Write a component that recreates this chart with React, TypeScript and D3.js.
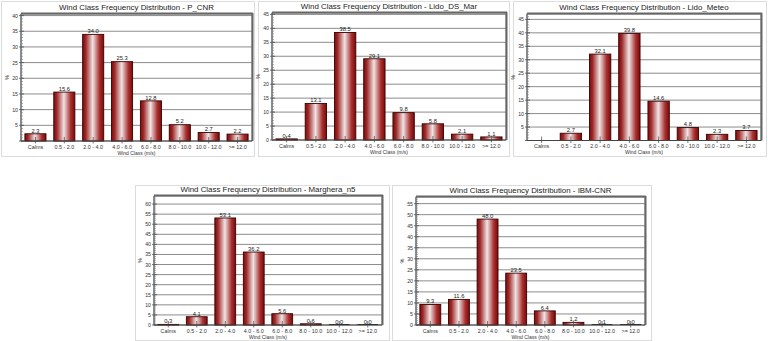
import React from "react";
import * as d3 from "d3";

const categories = ["Calms", "0.5 - 2.0", "2.0 - 4.0", "4.0 - 6.0", "6.0 - 8.0", "8.0 - 10.0", "10.0 - 12.0", ">= 12.0"];
const stations = ["P_CNR", "Lido_DS_Mar", "Lido_Meteo", "Marghera_n5", "IBM-CNR"];
const pCnrValues: (number | null)[] = [2.3, 15.6, 34.0, 25.3, 12.8, 5.2, 2.7, 2.2];
const lidoDsMarValues: (number | null)[] = [0.4, 13.1, 38.5, 29.1, 9.8, 5.8, 2.1, 1.1];
const lidoMeteoValues: (number | null)[] = [null, 2.7, 32.1, 39.8, 14.6, 4.8, 2.3, 3.7];
const margheraValues: (number | null)[] = [0.3, 4.1, 53.1, 36.2, 5.6, 0.6, 0.0, 0.0];
const ibmCnrValues: (number | null)[] = [9.3, 11.6, 48.0, 23.5, 6.4, 1.2, 0.1, 0.0];
const yMaxes = [40.5, 45.5, 47, 64, 58];
const yTickMax = [40, 45, 45, 60, 55];
const showZero = [false, true, false, true, true];

const seriesList = [pCnrValues, lidoDsMarValues, lidoMeteoValues, margheraValues, ibmCnrValues];

// layout: frame + plot area
const layouts = [
  { fx: 1, fy: 1, fw: 254, fh: 156, l: 21, t: 14, r: 252, b: 141 },
  { fx: 258, fy: 1, fw: 252, fh: 156, l: 272, t: 13, r: 506, b: 140 },
  { fx: 513, fy: 1, fw: 254, fh: 156, l: 527, t: 14, r: 761, b: 140.5 },
  { fx: 135, fy: 185, fw: 255, fh: 156, l: 154, t: 196, r: 382, b: 325 },
  { fx: 392, fy: 185, fw: 260, fh: 156, l: 416, t: 197, r: 645, b: 325 },
];

const FONT = "'Liberation Sans', Arial, sans-serif";

function Panel({ idx }: { idx: number }) {
  const L = layouts[idx];
  const values = seriesList[idx];
  const x = d3.scaleBand<string>().domain(categories).range([L.l, L.r]).paddingInner(0.27).paddingOuter(0.135);
  const y = d3.scaleLinear().domain([0, yMaxes[idx]]).range([L.b, L.t]);
  const majors = d3.range(0, yTickMax[idx] + 0.01, 5);
  const minors = d3.range(0, Math.floor(yMaxes[idx]) + 0.01, 1);
  const gid = `grad${idx}`;
  const cx = (L.l + L.r) / 2;
  return (
    <g>
      <defs>
        <linearGradient id={gid} x1="0" x2="1" y1="0" y2="0">
          <stop offset="0" stopColor="#7d0a0a" />
          <stop offset="0.15" stopColor="#a02a2a" />
          <stop offset="0.48" stopColor="#f0e4e4" />
          <stop offset="0.8" stopColor="#a83030" />
          <stop offset="1" stopColor="#7a0808" />
        </linearGradient>
      </defs>
      <rect x={L.fx + 0.5} y={L.fy + 0.5} width={L.fw - 1} height={L.fh - 1} fill="#fff" stroke="#dcdcdc" />
      <text x={cx} y={L.t - 4.5} textAnchor="middle" fontFamily={FONT} fontSize={7.9} fill="#222">
        {`Wind Class Frequency Distribution - ${stations[idx]}`}
      </text>
      {majors.filter((v) => v > 0).map((v) => (
        <line key={"g" + v} x1={L.l} x2={L.r} y1={y(v)} y2={y(v)} stroke="#8c8c8c" strokeWidth={1} />
      ))}
      {/* plot frame */}
      <rect x={L.l} y={L.t} width={L.r - L.l} height={L.b - L.t} fill="none" stroke="#8a8a8a" strokeWidth={1} />
      <line x1={L.l} x2={L.r + 1} y1={L.t - 0.5} y2={L.t - 0.5} stroke="#666" strokeWidth={2} />
      <line x1={L.r + 0.5} x2={L.r + 0.5} y1={L.t - 1} y2={L.b} stroke="#666" strokeWidth={2} />
      {/* y axis */}
      <line x1={L.l} x2={L.l} y1={L.t} y2={L.b} stroke="#555" strokeWidth={1} />
      {minors.map((v) => (
        <line key={"m" + v} x1={L.l} x2={L.l + 2} y1={y(v)} y2={y(v)} stroke="#777" strokeWidth={0.6} />
      ))}
      {majors.map((v) => (
        <line key={"t" + v} x1={L.l - 2} x2={L.l + 3} y1={y(v)} y2={y(v)} stroke="#555" strokeWidth={0.8} />
      ))}
      {majors.filter((v) => v > 0 || showZero[idx]).map((v) => (
        <text key={"yl" + v} x={L.l - 3} y={y(v) + 2} textAnchor="end" fontFamily={FONT} fontSize={5.2} fill="#333">
          {v}
        </text>
      ))}
      <text transform={`translate(${L.l - 12},${(L.t + L.b) / 2}) rotate(-90)`} textAnchor="middle" fontFamily={FONT} fontSize={5.5} fill="#333">
        %
      </text>
      {/* bars */}
      {categories.map((c, i) => {
        const v = values[i];
        if (v === null) return null;
        const bx = x(c)!;
        const by = y(v);
        const h = L.b - by;
        return (
          <g key={"b" + i}>
            {h > 0.3 && (
              <rect x={bx} y={by} width={x.bandwidth()} height={h} fill={`url(#${gid})`} stroke="#3a0000" strokeWidth={0.9} />
            )}
            {h <= 0.3 && <line x1={bx} x2={bx + x.bandwidth()} y1={L.b - 0.5} y2={L.b - 0.5} stroke="#222" strokeWidth={1} />}
            <text x={bx + x.bandwidth() / 2} y={by - 1.2} textAnchor="middle" fontFamily={FONT} fontSize={5.8} fill="#222">
              {v.toFixed(1)}
            </text>
          </g>
        );
      })}
      {/* x axis */}
      <line x1={L.l} x2={L.r} y1={L.b} y2={L.b} stroke="#444" strokeWidth={1.2} />
      {categories.map((c, i) => {
        const tx = x(c)! + x.bandwidth() / 2;
        return (
          <g key={"x" + i}>
            <line x1={tx} x2={tx} y1={L.b - 4} y2={L.b + 2.5} stroke="#444" strokeWidth={0.7} />
            <text x={tx} y={L.b + 7.5} textAnchor="middle" fontFamily={FONT} fontSize={5.4} fill="#333">
              {c}
            </text>
          </g>
        );
      })}
      <text x={cx} y={L.b + 13.5} textAnchor="middle" fontFamily={FONT} fontSize={5} fill="#333">
        Wind Class (m/s)
      </text>
    </g>
  );
}

export default function App() {
  return (
    <svg width={768} height={341} style={{ position: "fixed", left: 0, top: 0, background: "#fff" }}>
      <rect x={0} y={0} width={768} height={341} fill="#fff" />
      {layouts.map((_, i) => (
        <Panel key={i} idx={i} />
      ))}
    </svg>
  );
}
